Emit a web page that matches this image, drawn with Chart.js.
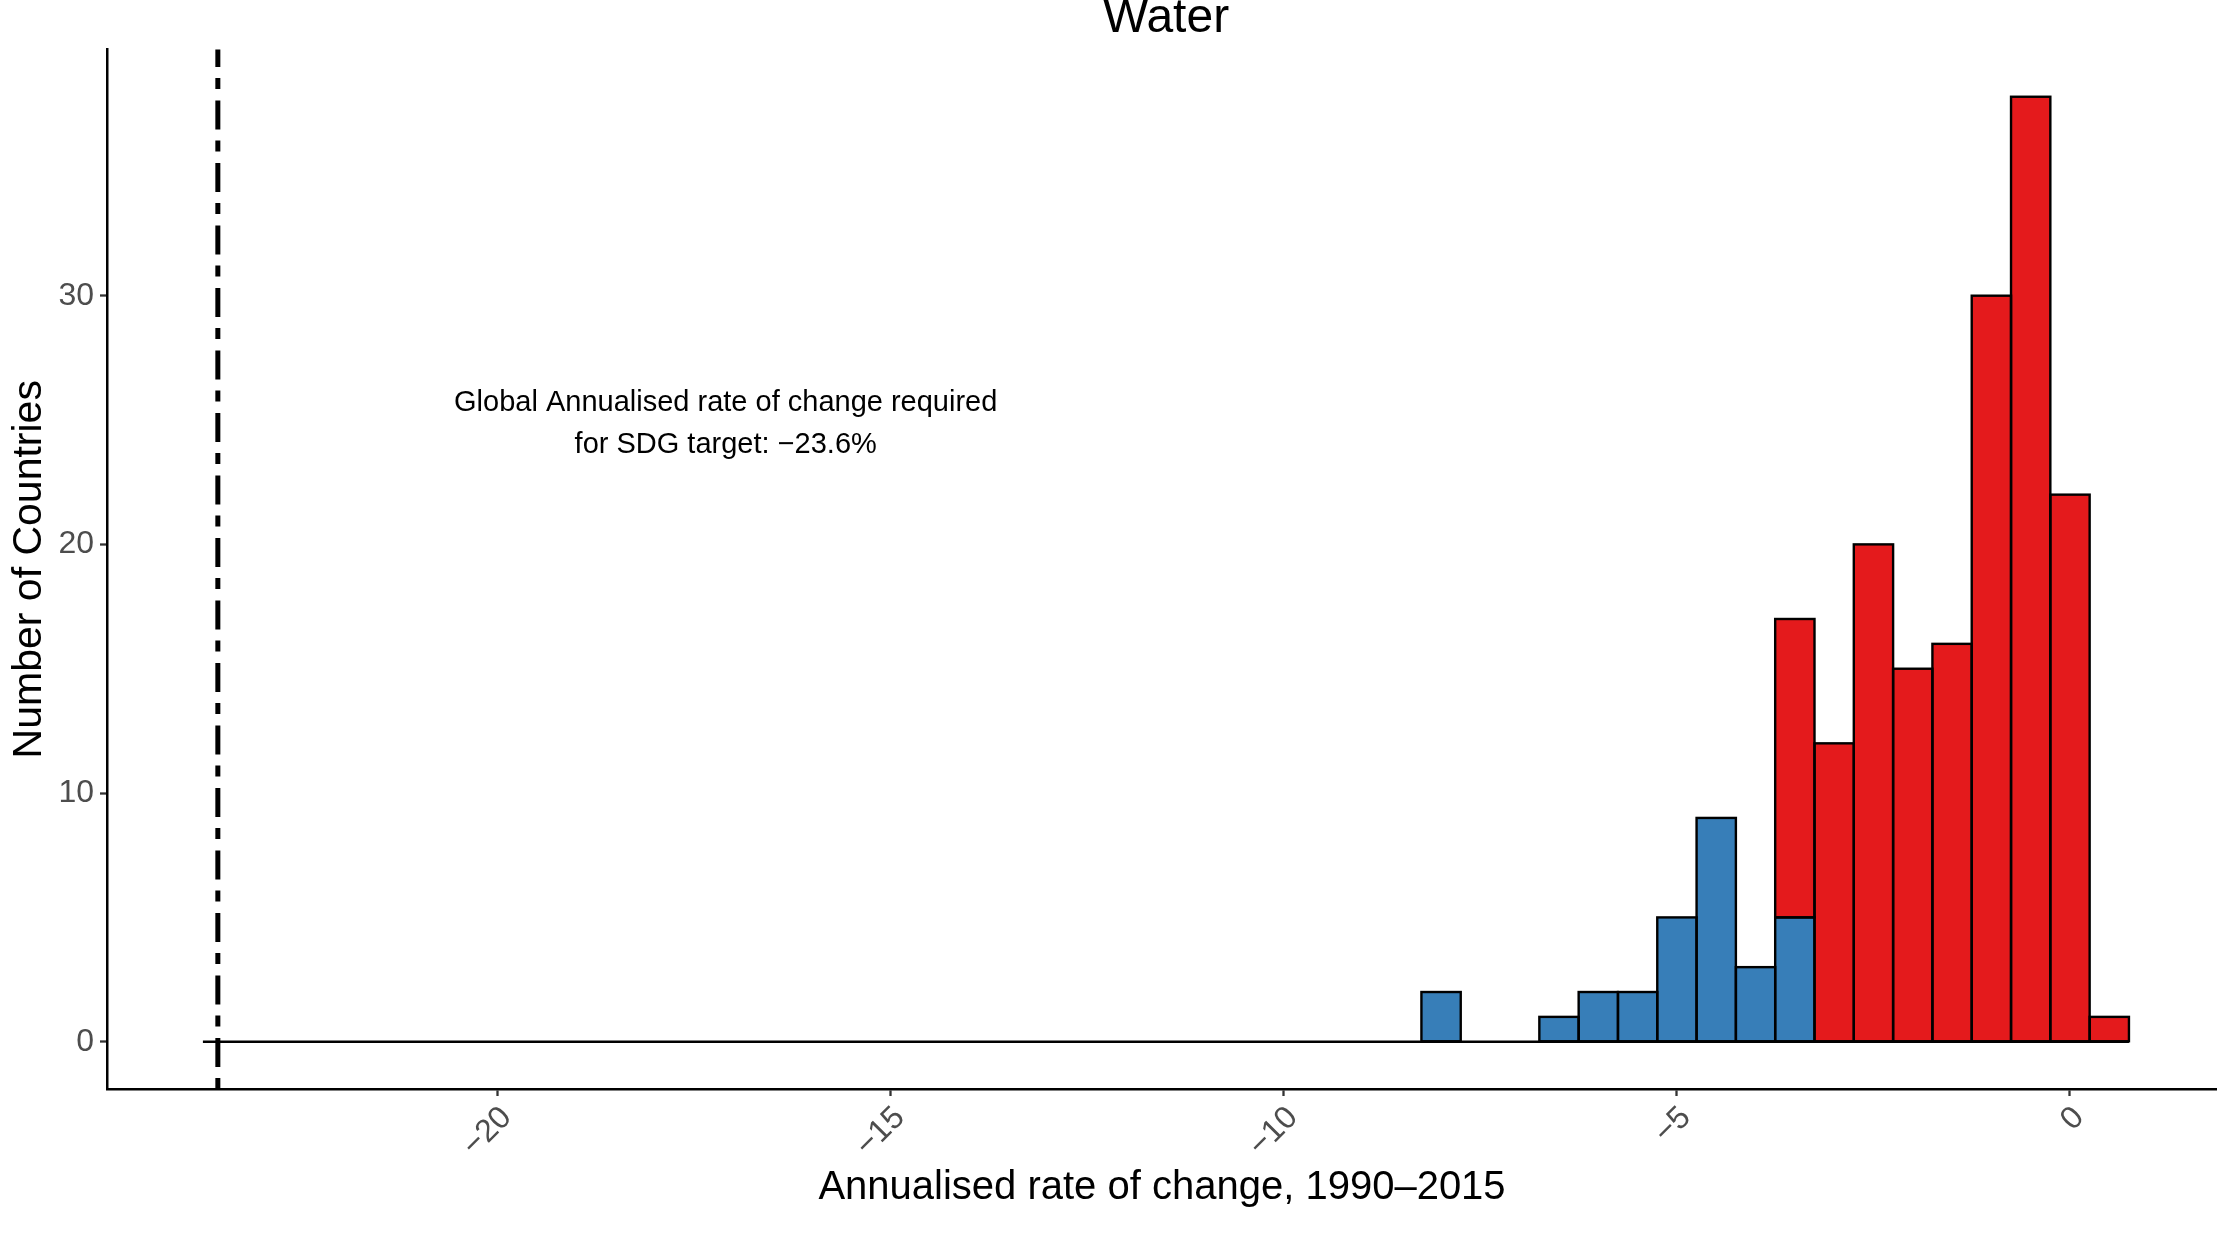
<!DOCTYPE html>
<html lang="en">
<head>
<meta charset="utf-8">
<title>Water</title>
<script src="https://cdn.jsdelivr.net/npm/chart.js@4.4.0/dist/chart.umd.min.js"></script>
<style>
	html, body { margin: 0; padding: 0; background: #fff; }
	#wrap { width: 2217px; height: 1250px; }
</style>
</head>
<body>
<div id="wrap"><canvas id="chart" width="2217" height="1250"></canvas></div>
<script>
// histogram bins (bin width 0.5), counts
const binMid = [-8, -7.5, -7, -6.5, -6, -5.5, -5, -4.5, -4, -3.5, -3, -2.5, -2, -1.5, -1, -0.5, 0, 0.5];
const blueCounts = [2, 0, 0, 1, 2, 2, 5, 9, 3, 5, 0, 0, 0, 0, 0, 0, 0, 0];
const redCounts = [0, 0, 0, 0, 0, 0, 0, 0, 0, 12, 12, 20, 15, 16, 30, 38, 22, 1];
// empty bins show only as a flat outline between these edges
const binEdges = [-23.75, 0.75];
const sdgTarget = -23.56;
const xTicks = [-20, -15, -10, -5, 0];
const yTicks = [0, 10, 20, 30];
const xRange = [-24.97, 1.87];
const yRange = [-1.9, 39.9];
const noteLines = ['Global Annualised rate of change required', 'for SDG target: \u221223.6%'];
const notePos = [-17.1, 24.85];

const FONT = '"Liberation Sans", Arial, Helvetica, sans-serif';
const minus = v => (v < 0 ? '\u2212' + Math.abs(v) : String(v));

// outlines centred on bar edges, target line, title and note
const extras = {
	id: 'extras',
	afterDatasetsDraw(chart) {
		const { ctx, chartArea: a, scales: { x } } = chart;
		ctx.save();
		ctx.strokeStyle = '#000';
		ctx.lineWidth = 2.4;
		[0, 1].forEach(i => {
			chart.getDatasetMeta(i).data.forEach(bar => {
				const p = bar.getProps(['x', 'y', 'base', 'width'], true);
				if (Math.abs(p.base - p.y) < 0.5) return;
				ctx.strokeRect(p.x - p.width / 2, p.y, p.width, p.base - p.y);
			});
		});
		const vx = x.getPixelForValue(sdgTarget);
		ctx.setLineDash([11, 11, 29, 11.5]);
		ctx.lineWidth = 5;
		ctx.beginPath();
		ctx.moveTo(vx, a.bottom);
		ctx.lineTo(vx, a.top);
		ctx.stroke();
		ctx.restore();
	},
	afterDraw(chart) {
		const { ctx, chartArea: a, scales: { x, y } } = chart;
		ctx.save();
		ctx.fillStyle = '#000';
		ctx.textAlign = 'center';
		ctx.textBaseline = 'alphabetic';
		ctx.font = '48px ' + FONT;
		ctx.fillText('Water', (a.left + a.right) / 2 + 4, 32);

		ctx.font = '29px ' + FONT;
		ctx.textBaseline = 'middle';
		const nx = x.getPixelForValue(notePos[0]);
		const ny = y.getPixelForValue(notePos[1]);
		ctx.fillText(noteLines[0], nx, ny - 21);
		ctx.fillText(noteLines[1], nx, ny + 21);
		ctx.restore();
	}
};

const blueData = binMid.map((m, i) => ({ x: m, y: blueCounts[i] }));
const redData = binMid.map((m, i) => ({ x: m, y: redCounts[i] }));

new Chart(document.getElementById('chart'), {
	type: 'bar',
	data: {
		datasets: [
			{
				label: 'below',
				data: blueData,
				backgroundColor: '#377EB8',
				borderWidth: 0,
				inflateAmount: 0,
				barPercentage: 1,
				categoryPercentage: 1
			},
			{
				label: 'above',
				data: redData,
				backgroundColor: '#E41A1C',
				borderWidth: 0,
				inflateAmount: 0,
				barPercentage: 1,
				categoryPercentage: 1
			},
			{
				type: 'line',
				label: 'empty bins',
				data: [{ x: binEdges[0], y: 0 }, { x: binEdges[1], y: 0 }],
				borderColor: '#000',
				borderWidth: 2.4,
				pointRadius: 0,
				fill: false
			}
		]
	},
	options: {
		responsive: false,
		animation: false,
		devicePixelRatio: 1,
		layout: { padding: { top: 49.5, left: 0, right: 0, bottom: 0 } },
		plugins: {
			legend: { display: false },
			tooltip: { enabled: false },
			title: { display: false }
		},
		scales: {
			x: {
				type: 'linear',
				stacked: true,
				offset: false,
				min: xRange[0],
				max: xRange[1],
				afterBuildTicks: s => { s.ticks = xTicks.map(v => ({ value: v })); },
				afterFit: s => { s.height = 161; },
				grid: {
					offset: false,
					drawOnChartArea: false,
					tickLength: 7,
					tickColor: '#333',
					tickWidth: 2.3
				},
				border: { display: true, color: '#000', width: 2.5 },
				ticks: {
					minRotation: 45,
					maxRotation: 45,
					padding: 3,
					labelOffset: 9,
					color: '#4D4D4D',
					font: { size: 32, family: FONT },
					callback: v => minus(v)
				},
				title: {
					display: true,
					text: 'Annualised rate of change, 1990\u20132015',
					color: '#000',
					font: { size: 40, family: FONT },
					padding: { top: 0, bottom: 38 }
				}
			},
			y: {
				stacked: true,
				min: yRange[0],
				max: yRange[1],
				afterBuildTicks: s => { s.ticks = yTicks.map(v => ({ value: v })); },
				afterFit: s => { s.width = 107; },
				grid: {
					drawOnChartArea: false,
					tickLength: 7,
					tickColor: '#333',
					tickWidth: 2.3
				},
				border: { display: true, color: '#000', width: 2.5 },
				ticks: {
					padding: 6,
					color: '#4D4D4D',
					font: { size: 32, family: FONT },
					callback: v => minus(v)
				},
				title: {
					display: true,
					text: 'Number of Countries',
					color: '#000',
					font: { size: 41, family: FONT },
					padding: { top: 5, bottom: 0 }
				}
			}
		}
	},
	plugins: [extras]
});
</script>
</body>
</html>
